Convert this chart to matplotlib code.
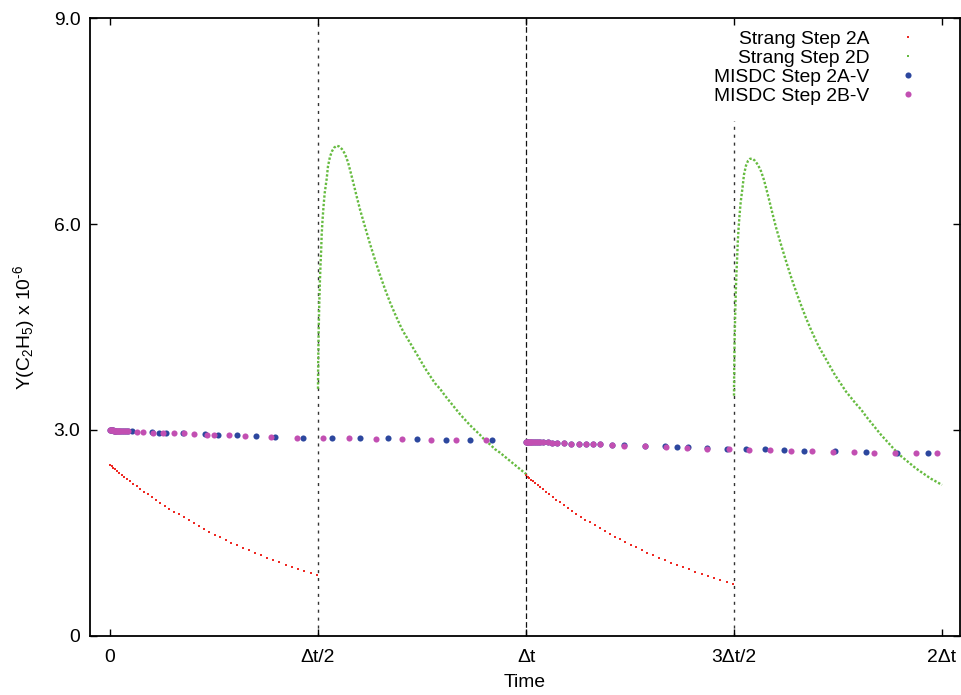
import matplotlib
matplotlib.use("Agg")
import matplotlib.pyplot as plt

plt.rcParams['font.family'] = ['Liberation Sans', 'DejaVu Sans']
plt.rcParams['mathtext.fontset'] = 'custom'
plt.rcParams['mathtext.rm'] = 'Liberation Sans'
plt.rcParams['mathtext.it'] = 'Liberation Sans:italic'
plt.rcParams['mathtext.default'] = 'rm'

# ---------------- data (time in units of dt, values x 1e-6) ----------------
red_t1 = [0.000, 0.004, 0.008, 0.012, 0.017, 0.022, 0.028, 0.034, 0.041, 0.048,
          0.056, 0.064, 0.073, 0.082, 0.091, 0.101, 0.111, 0.121, 0.132, 0.143,
          0.154, 0.165, 0.177, 0.189, 0.201, 0.213, 0.226, 0.239, 0.252, 0.265,
          0.278, 0.292, 0.306, 0.320, 0.334, 0.348, 0.362, 0.377, 0.392, 0.407,
          0.422, 0.437, 0.452, 0.467, 0.482, 0.497]
red_v1 = [2.490, 2.469, 2.449, 2.429, 2.404, 2.379, 2.350, 2.321, 2.287, 2.254,
          2.217, 2.181, 2.141, 2.101, 2.062, 2.020, 1.979, 1.938, 1.895, 1.852,
          1.810, 1.770, 1.726, 1.684, 1.642, 1.602, 1.560, 1.518, 1.478, 1.439,
          1.401, 1.360, 1.322, 1.284, 1.247, 1.212, 1.177, 1.141, 1.106, 1.072,
          1.040, 1.008, 0.977, 0.947, 0.918, 0.885]
red_t2 = [1.000, 1.004, 1.008, 1.012, 1.017, 1.022, 1.028, 1.034, 1.041, 1.048,
          1.056, 1.064, 1.073, 1.082, 1.091, 1.101, 1.111, 1.121, 1.132, 1.143,
          1.154, 1.165, 1.177, 1.189, 1.201, 1.213, 1.226, 1.239, 1.252, 1.265,
          1.278, 1.292, 1.306, 1.320, 1.334, 1.348, 1.362, 1.377, 1.392, 1.407,
          1.422, 1.437, 1.452, 1.467, 1.482, 1.497]
red_v2 = [2.340, 2.319, 2.298, 2.278, 2.252, 2.227, 2.197, 2.168, 2.134, 2.100,
          2.063, 2.026, 1.986, 1.946, 1.907, 1.864, 1.823, 1.782, 1.739, 1.696,
          1.655, 1.614, 1.571, 1.529, 1.489, 1.449, 1.407, 1.367, 1.327, 1.289,
          1.252, 1.213, 1.175, 1.139, 1.104, 1.069, 1.036, 1.002, 0.969, 0.936,
          0.905, 0.875, 0.846, 0.818, 0.791, 0.760]

green_t1 = [0.5000, 0.5002, 0.5005, 0.5010, 0.5014, 0.5022, 0.5029, 0.5038, 0.5048, 0.5060,
            0.5075, 0.5089, 0.5108, 0.5132, 0.5161, 0.5209, 0.5240, 0.5288, 0.5337, 0.5385,
            0.5450, 0.5505, 0.5577, 0.5649, 0.5721, 0.5769, 0.5841, 0.5930, 0.6010, 0.6130,
            0.6250, 0.6370, 0.6490, 0.6611, 0.6731, 0.6851, 0.6971, 0.7043, 0.7212, 0.7428,
            0.7572, 0.7692, 0.7813, 0.7933, 0.8053, 0.8173, 0.8293, 0.8413, 0.8534, 0.8654,
            0.8774, 0.8894, 0.9014, 0.9135, 0.9255, 0.9375, 0.9495, 0.9615, 0.9736, 0.9856,
            1.0000]
green_v1 = [3.60, 3.80, 4.00, 4.20, 4.40, 4.60, 4.80, 5.00, 5.20, 5.40,
            5.60, 5.85, 6.05, 6.25, 6.45, 6.66, 6.84, 6.98, 7.06, 7.11,
            7.14, 7.13, 7.09, 7.02, 6.90, 6.79, 6.62, 6.40, 6.21, 5.96,
            5.71, 5.48, 5.26, 5.05, 4.86, 4.69, 4.53, 4.44, 4.27, 4.05,
            3.90, 3.79, 3.68, 3.60, 3.50, 3.41, 3.32, 3.23, 3.15, 3.07,
            3.00, 2.93, 2.85, 2.79, 2.72, 2.67, 2.61, 2.55, 2.49, 2.43,
            2.36]
green_t2 = [1.5000, 1.5002, 1.5005, 1.5010, 1.5014, 1.5022, 1.5029, 1.5038, 1.5048, 1.5060,
            1.5075, 1.5089, 1.5108, 1.5132, 1.5161, 1.5209, 1.5240, 1.5288, 1.5337, 1.5385,
            1.5450, 1.5505, 1.5577, 1.5649, 1.5721, 1.5769, 1.5841, 1.5930, 1.6010, 1.6130,
            1.6250, 1.6370, 1.6490, 1.6611, 1.6731, 1.6851, 1.6971, 1.7043, 1.7212, 1.7428,
            1.7572, 1.7692, 1.7813, 1.7933, 1.8053, 1.8173, 1.8293, 1.8413, 1.8534, 1.8654,
            1.8774, 1.8894, 1.9014, 1.9135, 1.9255, 1.9375, 1.9495, 1.9615, 1.9736, 1.9856,
            2.0000]
green_v2 = [3.50, 3.70, 3.90, 4.10, 4.30, 4.50, 4.70, 4.90, 5.10, 5.30,
            5.50, 5.72, 5.92, 6.12, 6.32, 6.55, 6.72, 6.85, 6.92, 6.95,
            6.95, 6.92, 6.86, 6.77, 6.64, 6.53, 6.36, 6.14, 5.95, 5.70,
            5.46, 5.23, 5.02, 4.82, 4.63, 4.46, 4.30, 4.21, 4.03, 3.80,
            3.67, 3.56, 3.47, 3.38, 3.30, 3.20, 3.11, 3.02, 2.93, 2.85,
            2.77, 2.69, 2.62, 2.56, 2.50, 2.44, 2.39, 2.34, 2.29, 2.25,
            2.20]

blue_t = [0.0000, 0.0024, 0.0048, 0.0072, 0.0096, 0.0120, 0.0144, 0.0192, 0.0240, 0.0288,
          0.0337, 0.0385, 0.0433, 0.0529, 0.1010, 0.1178, 0.1346, 0.1755, 0.2284, 0.2596,
          0.3053, 0.3510, 0.3966, 0.4639, 0.5337, 0.6010, 0.6683, 0.7380, 0.8077, 0.8654,
          0.9183,
          1.0000, 1.0024, 1.0048, 1.0096, 1.0144, 1.0192, 1.0240, 1.0288, 1.0337, 1.0409,
          1.0529, 1.0625, 1.0745, 1.0913, 1.1082, 1.1274, 1.1442, 1.1611, 1.1779, 1.2067,
          1.2356, 1.2861, 1.3341, 1.3630, 1.3894, 1.4351, 1.4832, 1.5288, 1.5745, 1.6202,
          1.6683, 1.7428, 1.8173, 1.8918, 1.9663]
blue_v = [3.00, 3.00, 3.00, 3.00, 2.99, 2.99, 2.99, 2.99, 2.99, 2.99,
          2.98, 2.98, 2.98, 2.98, 2.97, 2.96, 2.96, 2.95, 2.94, 2.93,
          2.92, 2.91, 2.90, 2.89, 2.89, 2.88, 2.88, 2.87, 2.86, 2.86,
          2.85,
          2.83, 2.83, 2.83, 2.83, 2.83, 2.83, 2.83, 2.82, 2.82, 2.82,
          2.82, 2.81, 2.81, 2.81, 2.80, 2.80, 2.80, 2.79, 2.79, 2.78,
          2.78, 2.77, 2.76, 2.75, 2.75, 2.74, 2.73, 2.72, 2.72, 2.71,
          2.70, 2.69, 2.68, 2.67, 2.66]

pink_t = [0.0000, 0.0024, 0.0048, 0.0072, 0.0096, 0.0120, 0.0144, 0.0168, 0.0192, 0.0216,
          0.0240, 0.0288, 0.0337, 0.0385, 0.0433, 0.0649, 0.0793, 0.1034, 0.1274, 0.1538,
          0.1779, 0.2019, 0.2332, 0.2500, 0.2861, 0.3245, 0.3870, 0.4495, 0.5120, 0.5745,
          0.6394, 0.7019, 0.7716, 0.8317, 0.9038,
          1.0000, 1.0024, 1.0048, 1.0072, 1.0096, 1.0120, 1.0144, 1.0192, 1.0240, 1.0288,
          1.0337, 1.0409, 1.0529, 1.0625, 1.0745, 1.0913, 1.1082, 1.1274, 1.1442, 1.1611,
          1.1779, 1.2067, 1.2356, 1.2861, 1.3365, 1.3870, 1.4351, 1.4880, 1.5361, 1.5865,
          1.6370, 1.6875, 1.7380, 1.7885, 1.8365, 1.8870, 1.9375, 1.9880]
pink_v = [3.00, 3.00, 3.00, 3.00, 2.99, 2.99, 2.99, 2.99, 2.99, 2.99,
          2.99, 2.99, 2.98, 2.98, 2.98, 2.97, 2.97, 2.96, 2.96, 2.95,
          2.95, 2.94, 2.93, 2.93, 2.92, 2.91, 2.90, 2.89, 2.88, 2.88,
          2.87, 2.87, 2.86, 2.85, 2.85,
          2.83, 2.83, 2.83, 2.83, 2.83, 2.83, 2.83, 2.83, 2.82, 2.82,
          2.82, 2.82, 2.82, 2.81, 2.81, 2.81, 2.80, 2.80, 2.80, 2.79,
          2.79, 2.78, 2.77, 2.76, 2.75, 2.74, 2.73, 2.72, 2.71, 2.71,
          2.70, 2.69, 2.68, 2.68, 2.67, 2.67, 2.66, 2.66]

vline_t = [0.5, 1.0, 1.5]
vline_top = [9.0, 9.0, 7.5]

xtick_pos = [0, 0.5, 1.0, 1.5, 2.0]
xtick_labels = ['0', '\u0394t/2', '\u0394t', '3\u0394t/2', '2\u0394t']
ytick_pos = [0, 3, 6, 9]
ytick_labels = ['0', '3.0', '6.0', '9.0']

labels = ['Strang Step 2A', 'Strang Step 2D', 'MISDC Step 2A-V', 'MISDC Step 2B-V']

# ---------------- colours ----------------
c_red = '#ee2a24'
c_green = '#66bb40'
c_blue = '#2c479e'
c_pink = '#c24fb2'

FS = 13.9

fig = plt.figure(figsize=(9.62, 6.95), dpi=100)
ax = fig.add_axes([90 / 962, 1 - 636 / 695, 870 / 962, 618 / 695])

# vertical reference lines
ax.vlines(vline_t[0], 0, vline_top[0], colors='#333333', linestyles=(0, (2.2, 3.5)), lw=1.0, zorder=1)
ax.vlines(vline_t[1], 0, vline_top[1], colors='#111111', linestyles=(0, (4.5, 2.5)), lw=0.9, zorder=1)
ax.vlines(vline_t[2], 0, vline_top[2], colors='#333333', linestyles=(0, (2.2, 3.5)), lw=1.0, zorder=1)

ax.plot(red_t1, red_v1, 's', ms=2.1, mew=0, color=c_red, label=labels[0], zorder=3)
ax.plot(red_t2, red_v2, 's', ms=2.1, mew=0, color=c_red, zorder=3)
ax.plot(green_t1, green_v1, color=c_green, lw=1.7, ls=(0, (1, 0.8)), zorder=3)
ax.plot(green_t2, green_v2, color=c_green, lw=1.7, ls=(0, (1, 0.8)), zorder=3)
ax.plot([], [], 's', ms=2.0, mew=0, color=c_green, label=labels[1])
ax.plot(blue_t, blue_v, 'o', ms=4.4, mew=0, color=c_blue, label=labels[2], zorder=4)
ax.plot(pink_t, pink_v, 'o', ms=4.4, mew=0, color=c_pink, label=labels[3], zorder=5)

ax.set_xlim(-20 / 416, 850 / 416)
ax.set_ylim(0, 9)
ax.set_xticks(xtick_pos)
ax.set_xticklabels(xtick_labels, fontsize=FS)
ax.set_yticks(ytick_pos)
ax.set_yticklabels(ytick_labels, fontsize=FS)
ax.tick_params(axis='both', direction='in', top=True, right=True, length=5, width=1.0)
ax.tick_params(axis='x', pad=9.5)
ax.tick_params(axis='y', pad=7)
for s in ax.spines.values():
    s.set_linewidth(1.3)

ax.set_xlabel('Time', fontsize=FS)
ax.xaxis.set_label_coords(0.5, -0.062)
ax.set_ylabel('Y(C$_2$H$_5$) x 10$^{\\text{-}6}$', fontsize=FS)
ax.yaxis.set_label_coords(-0.061, 0.5)

leg = ax.legend(loc='upper right', bbox_to_anchor=((927 - 90) / 870, (636 - 30) / 618),
                frameon=False, markerfirst=False, fontsize=FS, borderpad=0, borderaxespad=0,
                handletextpad=1.0, handlelength=2.0, labelspacing=0.08, markerscale=1.0)

fig.savefig('out.png', dpi=100)
